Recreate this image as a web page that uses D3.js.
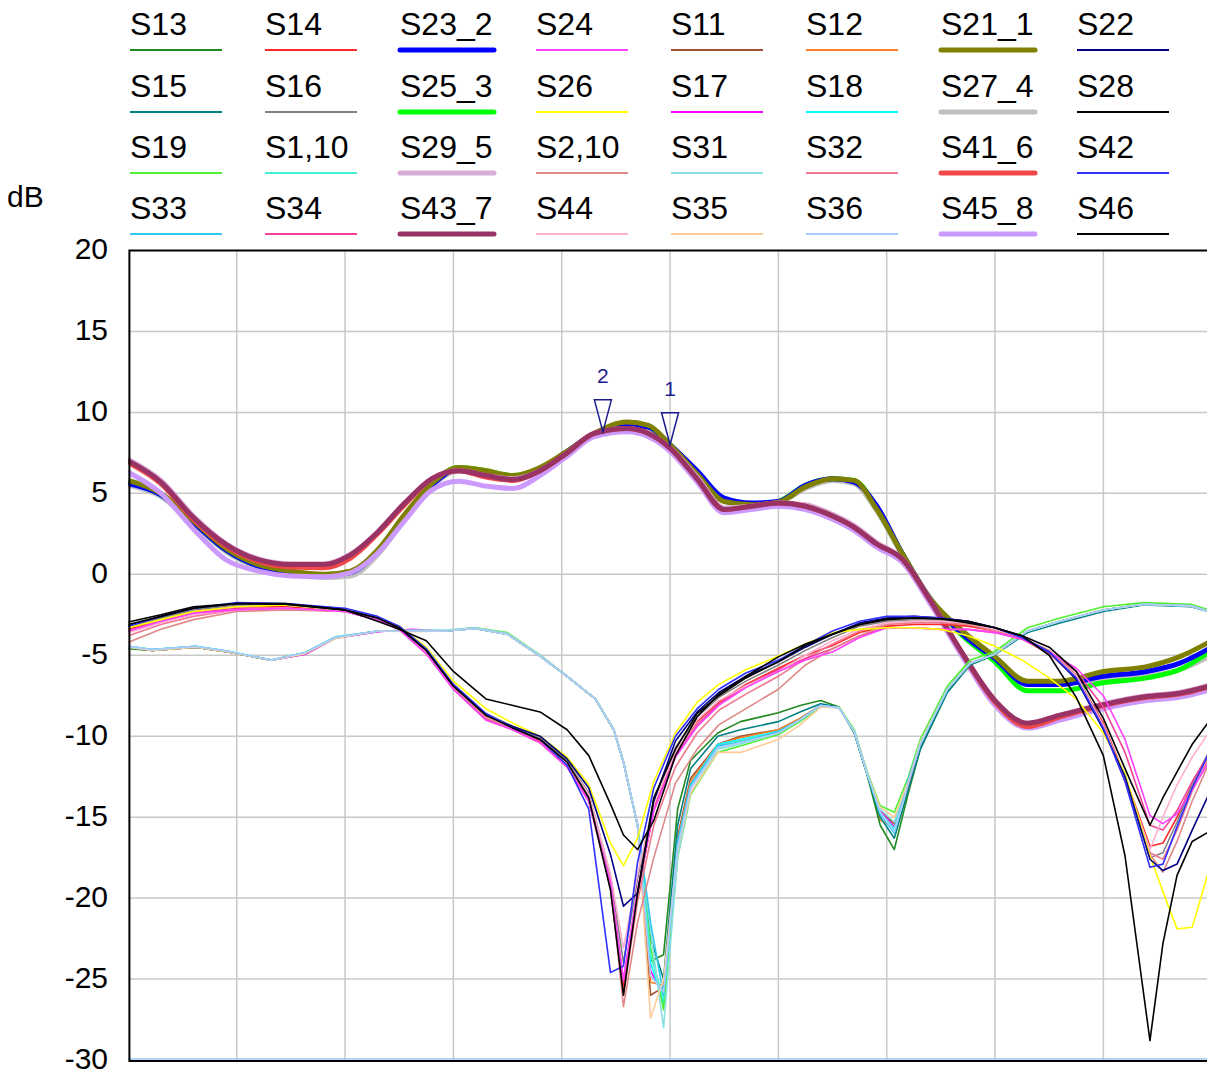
<!DOCTYPE html>
<html>
<head>
<meta charset="utf-8">
<script src="https://cdn.jsdelivr.net/npm/d3@7"></script>
<style>
  html, body { margin: 0; padding: 0; background: #fff; }
  svg { display: block; font-family: "Liberation Sans", Arial, sans-serif; }
</style>
</head>
<body>
<svg class="chart" width="1207" height="1075"></svg>
<script>
/* S-parameter sweep plot, dB vs. sweep divisions */

// ---- data ----
var yTicks = [20, 15, 10, 5, 0, -5, -10, -15, -20, -25, -30];
var xGrid = [1, 2, 3, 4, 5, 6, 7, 8, 9];

// sweep positions (in grid divisions) for each family of traces
var xThick = [0, 0.3, 0.6, 0.9, 1.2, 1.5, 1.8, 2.05, 2.3, 2.55, 2.8, 3.05, 3.3, 3.55, 3.8, 4.05, 4.3, 4.6, 4.8, 5.0,
  5.25, 5.5, 5.75, 6.0, 6.25, 6.5, 6.7, 6.9, 7.15, 7.4, 7.7, 8.0, 8.3, 8.6, 9.0, 9.4, 9.7, 10.0];
var xLow = [0, 0.3, 0.6, 1.0, 1.45, 2.0, 2.3, 2.5, 2.75, 3.0, 3.3, 3.55, 3.8, 4.05, 4.25, 4.45, 4.57, 4.7, 4.85, 5.05,
  5.25, 5.45, 5.7, 6.0, 6.25, 6.5, 6.75, 7.0, 7.25, 7.5, 7.75, 8.0, 8.25, 8.5, 8.75, 9.0, 9.2, 9.43, 9.55, 9.68, 9.82, 10.0];
var xIso = [0, 0.22, 0.62, 0.92, 1.32, 1.63, 1.91, 2.31, 2.62, 2.92, 3.2, 3.5, 3.8, 4.05, 4.31, 4.48, 4.57, 4.7, 4.82, 4.94,
  5.07, 5.19, 5.44, 5.65, 6.0, 6.2, 6.39, 6.56, 6.7, 6.82, 6.94, 7.07, 7.2, 7.31, 7.56, 7.77, 7.99, 8.3, 8.6, 9.0, 9.37, 9.81, 10.0];

// thick traces
var S21_1 = [5.8, 5.0, 3.3, 1.6, 0.6, 0.2, 0.0, 0.2, 1.5, 3.7, 5.6, 6.6, 6.4, 6.1, 6.6, 7.6, 8.7, 9.4, 9.2, 8.0, 6.2, 4.5, 4.3, 4.45, 5.4, 5.9, 5.8, 4.1, 1.2, -1.5, -3.5, -5.1, -6.6, -6.6, -6.0, -5.7, -5.1, -4.1];
var S23_2 = [5.6, 4.9, 3.2, 1.5, 0.5, 0.1, -0.1, 0.1, 1.4, 3.6, 5.5, 6.5, 6.3, 6.0, 6.5, 7.6, 8.7, 9.2, 9.1, 8.0, 6.4, 4.7, 4.4, 4.5, 5.5, 5.9, 5.7, 4.3, 1.2, -1.5, -3.7, -5.2, -6.8, -6.8, -6.3, -6.0, -5.5, -4.5];
var S25_3 = [5.7, 4.9, 3.2, 1.5, 0.5, 0.1, -0.1, 0.1, 1.4, 3.6, 5.6, 6.6, 6.4, 6.1, 6.5, 7.6, 8.7, 9.3, 9.1, 8.0, 6.3, 4.6, 4.3, 4.5, 5.5, 5.9, 5.8, 4.2, 1.2, -1.5, -3.8, -5.4, -7.2, -7.2, -6.7, -6.4, -5.9, -4.7];
var S27_4 = [5.5, 4.8, 3.1, 1.4, 0.4, 0.0, -0.2, -0.1, 1.2, 3.4, 5.4, 6.4, 6.3, 6.0, 6.4, 7.5, 8.6, 9.2, 9.0, 7.9, 6.1, 4.5, 4.2, 4.4, 5.3, 5.8, 5.6, 4.0, 1.1, -1.6, -3.6, -5.1, -6.7, -6.6, -6.5, -6.3, -5.9, -5.0];
var S29_5 = [7.1, 5.8, 3.6, 1.9, 0.95, 0.65, 0.65, 1.25, 2.6, 4.4, 5.9, 6.4, 6.1, 5.9, 6.4, 7.5, 8.7, 9.0, 8.7, 7.8, 6.0, 4.1, 4.2, 4.4, 4.3, 3.7, 3.0, 2.0, 0.9, -1.6, -4.9, -7.8, -9.2, -8.7, -8.0, -7.5, -7.3, -6.8];
var S41_6 = [6.9, 5.6, 3.4, 1.75, 0.8, 0.45, 0.4, 1.0, 2.5, 4.3, 5.9, 6.4, 6.0, 5.8, 6.4, 7.5, 8.7, 9.0, 8.7, 7.8, 5.9, 4.0, 4.2, 4.4, 4.2, 3.6, 2.9, 1.9, 0.9, -1.6, -4.9, -7.9, -9.4, -8.8, -8.1, -7.6, -7.4, -6.9];
var S43_7 = [7.0, 5.7, 3.5, 1.85, 0.9, 0.6, 0.6, 1.2, 2.6, 4.4, 5.9, 6.4, 6.1, 5.85, 6.4, 7.5, 8.7, 9.0, 8.7, 7.8, 5.9, 4.0, 4.2, 4.4, 4.2, 3.6, 2.9, 1.9, 0.9, -1.6, -4.9, -7.8, -9.2, -8.7, -8.05, -7.55, -7.35, -6.85];
var S45_8 = [6.3, 5.0, 2.8, 0.9, 0.2, -0.1, -0.15, 0.1, 1.3, 3.3, 5.2, 5.75, 5.45, 5.3, 6.1, 7.3, 8.5, 8.8, 8.5, 7.6, 5.7, 3.8, 4.0, 4.2, 4.0, 3.4, 2.7, 1.7, 0.7, -1.8, -5.1, -8.1, -9.5, -9.0, -8.3, -7.8, -7.6, -7.1];

// thin traces on xLow
var S42 = [-3.2, -2.6, -2.1, -1.75, -1.8, -2.1, -2.6, -3.2, -4.6, -6.8, -8.6, -9.5, -10.2, -11.8, -14.5, -24.6, -24.2, -17.8, -13.2, -10.0, -8.3, -7.1, -6.1, -5.3, -4.4, -3.5, -2.9, -2.6, -2.6, -2.7, -2.9, -3.3, -3.9, -4.8, -6.4, -9.5, -12.8, -18.1, -17.9, -15.6, -13.2, -10.7];
var S28 = [-2.95, -2.5, -2.0, -1.8, -1.8, -2.2, -2.9, -3.4, -4.1, -6.0, -7.7, -8.1, -8.5, -9.6, -11.2, -14.2, -16.1, -17.0, -15.2, -11.2, -8.8, -7.4, -6.3, -5.1, -4.3, -3.7, -3.1, -2.8, -2.7, -2.75, -2.9, -3.3, -3.8, -5.0, -7.6, -11.2, -17.4, -28.8, -22.8, -18.6, -16.5, -15.8];
var S46 = [-3.1, -2.6, -2.1, -1.8, -1.85, -2.2, -2.7, -3.3, -4.7, -6.9, -8.7, -9.5, -10.2, -11.6, -13.8, -19.5, -26.0, -19.7, -13.8, -10.8, -8.6, -7.5, -6.4, -5.4, -4.4, -3.7, -3.1, -2.75, -2.7, -2.75, -3.0, -3.3, -3.8, -4.5, -6.0, -8.9, -12.0, -15.5, -13.8, -12.2, -10.5, -8.85];
var S26 = [-3.3, -2.8, -2.3, -2.0, -1.9, -2.2, -2.7, -3.2, -4.5, -6.6, -8.3, -9.2, -10.0, -11.3, -13.0, -16.6, -18.0, -16.3, -12.8, -9.8, -7.9, -6.8, -5.9, -5.05, -4.3, -3.6, -3.4, -3.3, -3.3, -3.4, -3.8, -4.45, -5.3, -6.4, -7.7, -9.8, -12.3, -17.4, -19.6, -21.9, -21.8, -17.7];
var S24 = [-3.5, -2.9, -2.4, -2.2, -2.1, -2.3, -2.8, -3.4, -4.9, -7.1, -9.0, -9.6, -10.4, -11.9, -14.0, -19.0, -25.1, -19.5, -14.6, -11.3, -9.4, -8.1, -7.0, -6.0, -5.3, -4.8, -3.9, -3.3, -3.3, -3.4, -3.4, -3.6, -4.0, -4.8, -5.8, -7.5, -10.2, -14.9, -15.4, -14.8, -13.3, -11.3];
var S2_10 = [-4.2, -3.4, -2.8, -2.3, -2.2, -2.3, -2.8, -3.4, -4.9, -7.0, -8.8, -9.6, -10.4, -11.8, -13.8, -19.0, -26.7, -21.5, -17.5, -12.9, -10.8, -9.3, -8.3, -7.1, -5.6, -4.6, -3.8, -3.1, -2.9, -2.9, -3.1, -3.4, -3.9, -4.7, -6.2, -9.3, -12.6, -17.3, -18.4, -16.5, -14.0, -11.3];
var S44 = [-3.6, -3.0, -2.5, -2.2, -2.1, -2.3, -2.8, -3.4, -4.8, -6.9, -8.7, -9.5, -10.2, -11.6, -13.6, -18.5, -23.1, -18.5, -14.2, -11.0, -9.0, -7.8, -6.9, -6.0, -5.0, -4.1, -3.4, -3.0, -2.9, -2.9, -3.0, -3.4, -3.9, -4.8, -6.3, -9.4, -12.6, -17.0, -15.0, -13.0, -11.3, -9.5];
var S22 = [-3.2, -2.6, -2.1, -1.8, -1.85, -2.2, -2.7, -3.3, -4.7, -6.9, -8.7, -9.4, -10.0, -11.4, -13.2, -17.3, -20.5, -19.7, -14.0, -10.3, -8.5, -7.3, -6.3, -5.4, -4.5, -3.7, -3.0, -2.7, -2.6, -2.7, -2.9, -3.3, -3.9, -4.8, -6.5, -9.6, -12.5, -17.6, -18.3, -17.9, -15.8, -13.2];
var S14 = [-3.4, -2.8, -2.3, -2.0, -2.0, -2.3, -2.8, -3.4, -4.8, -7.0, -8.9, -9.6, -10.3, -11.8, -13.9, -19.2, -25.5, -19.8, -14.5, -11.0, -9.1, -7.9, -6.8, -5.8, -5.0, -4.4, -3.6, -3.2, -3.1, -3.1, -3.2, -3.5, -4.0, -4.9, -6.3, -9.2, -12.5, -16.8, -16.6, -15.0, -13.0, -10.8];
var S16 = [-3.3, -2.7, -2.2, -1.9, -1.9, -2.2, -2.7, -3.3, -4.7, -6.8, -8.6, -9.4, -10.1, -11.5, -13.5, -18.6, -24.0, -18.8, -14.0, -10.7, -8.8, -7.6, -6.6, -5.6, -4.7, -3.9, -3.2, -2.9, -2.8, -2.8, -3.0, -3.4, -3.9, -4.8, -6.3, -9.4, -12.7, -17.5, -17.2, -15.3, -13.0, -10.6];
var S32 = [-3.8, -3.1, -2.6, -2.2, -2.1, -2.3, -2.8, -3.4, -4.9, -7.0, -8.9, -9.6, -10.4, -11.9, -14.0, -19.4, -26.0, -20.2, -15.5, -11.9, -9.8, -8.4, -7.4, -6.3, -5.2, -4.3, -3.5, -3.1, -3.0, -3.0, -3.1, -3.5, -4.0, -4.9, -6.4, -9.5, -12.8, -17.2, -17.6, -15.8, -13.4, -11.0];
var S34 = [-3.5, -2.9, -2.4, -2.1, -2.1, -2.3, -2.8, -3.4, -4.9, -7.1, -9.0, -9.6, -10.4, -11.9, -14.0, -19.2, -25.0, -19.5, -14.6, -11.2, -9.3, -8.0, -6.9, -5.9, -5.2, -4.6, -3.8, -3.3, -3.3, -3.4, -3.4, -3.6, -4.0, -4.8, -6.0, -8.2, -11.0, -15.5, -15.8, -14.6, -12.8, -10.8];

// thin traces on xIso
var S33 = [-4.45, -4.65, -4.45, -4.75, -5.3, -4.85, -3.9, -3.5, -3.5, -3.5, -3.35, -3.7, -5.05, -6.3, -7.7, -9.6, -11.6, -15.5, -21.5, -26.0, -16.5, -13.0, -10.6, -10.4, -9.7, -9.0, -8.1, -8.25, -9.7, -12.3, -14.8, -16.0, -12.6, -10.5, -7.1, -5.5, -4.95, -3.5, -2.9, -2.2, -1.85, -1.95, -2.35];
var S11 = [-4.5, -4.7, -4.5, -4.8, -5.3, -4.9, -3.9, -3.5, -3.5, -3.5, -3.3, -3.7, -5.0, -6.3, -7.7, -9.6, -11.6, -15.5, -26.0, -25.5, -16.2, -12.6, -10.5, -10.0, -9.6, -8.9, -8.1, -8.25, -9.7, -12.3, -14.6, -15.4, -13.0, -10.5, -7.1, -5.5, -4.95, -3.5, -2.9, -2.2, -1.85, -1.95, -2.35];
var S35 = [-4.5, -4.7, -4.5, -4.8, -5.3, -4.9, -3.95, -3.5, -3.55, -3.5, -3.35, -3.7, -5.05, -6.3, -7.7, -9.6, -11.6, -15.5, -27.4, -25.0, -17.0, -13.5, -11.0, -11.0, -10.2, -9.3, -8.2, -8.25, -9.7, -12.3, -14.4, -15.0, -12.8, -10.4, -7.1, -5.5, -4.95, -3.5, -2.9, -2.2, -1.85, -1.95, -2.35];
var S31 = [-4.45, -4.65, -4.45, -4.75, -5.3, -4.85, -3.85, -3.5, -3.45, -3.45, -3.3, -3.65, -5.0, -6.3, -7.7, -9.6, -11.6, -15.5, -22.0, -28.0, -17.5, -13.5, -10.8, -10.5, -9.8, -9.0, -8.1, -8.25, -9.7, -12.3, -14.5, -15.3, -12.8, -10.4, -7.1, -5.5, -4.95, -3.5, -2.9, -2.2, -1.85, -1.95, -2.35];
var S13 = [-4.6, -4.7, -4.5, -4.8, -5.3, -4.85, -3.9, -3.5, -3.5, -3.5, -3.35, -3.7, -5.05, -6.3, -7.7, -9.6, -11.6, -15.5, -23.9, -23.5, -14.5, -11.5, -9.8, -9.1, -8.55, -8.1, -7.8, -8.2, -9.8, -12.4, -15.5, -17.0, -13.5, -10.8, -7.2, -5.5, -4.95, -3.5, -2.9, -2.2, -1.85, -1.95, -2.3];
var S15 = [-4.55, -4.7, -4.5, -4.8, -5.3, -4.85, -3.9, -3.5, -3.5, -3.5, -3.35, -3.7, -5.05, -6.3, -7.7, -9.6, -11.6, -15.5, -22.5, -25.0, -15.5, -12.0, -10.0, -9.6, -9.1, -8.5, -8.0, -8.2, -9.8, -12.4, -15.0, -16.3, -13.3, -10.8, -7.3, -5.6, -5.0, -3.6, -3.0, -2.3, -1.9, -2.0, -2.35];
var S19 = [-4.5, -4.7, -4.5, -4.8, -5.3, -4.9, -3.95, -3.5, -3.5, -3.5, -3.3, -3.6, -5.0, -6.3, -7.7, -9.6, -11.6, -15.5, -23.0, -26.9, -17.5, -13.6, -11.0, -10.6, -9.9, -9.1, -8.2, -8.2, -9.6, -12.2, -14.3, -14.7, -12.5, -10.2, -6.9, -5.3, -4.8, -3.3, -2.7, -2.0, -1.75, -1.85, -2.25];
var S17 = [-4.5, -4.7, -4.5, -4.8, -5.3, -4.95, -3.95, -3.55, -3.4, -3.5, -3.35, -3.7, -5.05, -6.3, -7.7, -9.6, -11.6, -15.5, -24.5, -26.0, -17.0, -13.2, -10.6, -10.3, -9.8, -9.0, -8.1, -8.25, -9.7, -12.3, -14.6, -15.6, -12.9, -10.5, -7.1, -5.5, -4.95, -3.5, -2.9, -2.2, -1.85, -1.95, -2.35];
var S18 = [-4.5, -4.65, -4.45, -4.75, -5.3, -4.85, -3.9, -3.5, -3.5, -3.5, -3.35, -3.7, -5.05, -6.3, -7.7, -9.6, -11.6, -15.5, -24.0, -26.5, -16.8, -13.0, -10.5, -10.2, -9.7, -9.0, -8.1, -8.25, -9.7, -12.3, -14.8, -15.8, -12.8, -10.5, -7.1, -5.5, -4.95, -3.5, -2.9, -2.2, -1.85, -1.95, -2.35];
var S1_10 = [-4.45, -4.65, -4.45, -4.75, -5.3, -4.85, -3.9, -3.5, -3.5, -3.5, -3.35, -3.7, -5.05, -6.3, -7.7, -9.6, -11.6, -15.5, -23.5, -26.2, -16.6, -13.1, -10.6, -10.3, -9.7, -9.0, -8.1, -8.25, -9.7, -12.3, -14.7, -15.7, -12.7, -10.4, -7.1, -5.5, -4.95, -3.5, -2.9, -2.2, -1.85, -1.95, -2.35];
var S36 = [-4.45, -4.65, -4.45, -4.75, -5.3, -4.85, -3.9, -3.5, -3.5, -3.5, -3.35, -3.7, -5.05, -6.3, -7.7, -9.6, -11.6, -15.5, -24.8, -25.8, -16.9, -13.2, -10.7, -10.4, -9.8, -9.0, -8.1, -8.25, -9.7, -12.3, -14.7, -15.9, -12.9, -10.5, -7.1, -5.5, -4.95, -3.5, -2.9, -2.2, -1.85, -1.95, -2.35];
var S12 = [-4.5, -4.7, -4.5, -4.8, -5.3, -4.9, -3.9, -3.5, -3.5, -3.5, -3.35, -3.7, -5.05, -6.3, -7.7, -9.6, -11.6, -15.5, -25.2, -25.4, -16.4, -12.8, -10.5, -10.1, -9.6, -8.9, -8.1, -8.25, -9.7, -12.3, -15.2, -15.6, -12.9, -10.5, -7.1, -5.5, -4.95, -3.5, -2.9, -2.2, -1.85, -1.95, -2.35];

// markers
var markerX = [5.0, 4.38];
var markerY = [8.0, 8.8];
var markerLabels = ["1", "2"];

// legend, in display order (4 rows x 8 columns)
var legendNames = [
  "S13", "S14", "S23_2", "S24", "S11", "S12", "S21_1", "S22",
  "S15", "S16", "S25_3", "S26", "S17", "S18", "S27_4", "S28",
  "S19", "S1,10", "S29_5", "S2,10", "S31", "S32", "S41_6", "S42",
  "S33", "S34", "S43_7", "S44", "S35", "S36", "S45_8", "S46"
];

// ---- trace table ----
var traces = [
  // thick, drawn first
  {name: "S27_4", x: xThick, y: S27_4, color: "#c0c0c0", thick: true},
  {name: "S25_3", x: xThick, y: S25_3, color: "#00ff00", thick: true},
  {name: "S23_2", x: xThick, y: S23_2, color: "#0000ff", thick: true},
  {name: "S21_1", x: xThick, y: S21_1, color: "#808000", thick: true},
  {name: "S45_8", x: xThick, y: S45_8, color: "#cc99ff", thick: true},
  {name: "S29_5", x: xThick, y: S29_5, color: "#d8acd8", thick: true},
  {name: "S41_6", x: xThick, y: S41_6, color: "#f04848", thick: true},
  {name: "S43_7", x: xThick, y: S43_7, color: "#993366", thick: true},
  // thin
  {name: "S11", x: xIso, y: S11, color: "#a0522d"},
  {name: "S12", x: xIso, y: S12, color: "#ff7f27"},
  {name: "S13", x: xIso, y: S13, color: "#208a20"},
  {name: "S15", x: xIso, y: S15, color: "#008080"},
  {name: "S17", x: xIso, y: S17, color: "#ff00ff"},
  {name: "S18", x: xIso, y: S18, color: "#00ffff"},
  {name: "S19", x: xIso, y: S19, color: "#50f030"},
  {name: "S1,10", x: xIso, y: S1_10, color: "#40f0d0"},
  {name: "S31", x: xIso, y: S31, color: "#88e0e0"},
  {name: "S33", x: xIso, y: S33, color: "#30c8f0"},
  {name: "S35", x: xIso, y: S35, color: "#ffcc99"},
  {name: "S36", x: xIso, y: S36, color: "#a8ccff"},
  {name: "S14", x: xLow, y: S14, color: "#ff2828"},
  {name: "S16", x: xLow, y: S16, color: "#808080"},
  {name: "S32", x: xLow, y: S32, color: "#f07890"},
  {name: "S34", x: xLow, y: S34, color: "#f0409a"},
  {name: "S2,10", x: xLow, y: S2_10, color: "#e08888"},
  {name: "S44", x: xLow, y: S44, color: "#ffb0d0"},
  {name: "S24", x: xLow, y: S24, color: "#ff40ff"},
  {name: "S26", x: xLow, y: S26, color: "#ffff00"},
  {name: "S22", x: xLow, y: S22, color: "#000080"},
  {name: "S42", x: xLow, y: S42, color: "#3030ff"},
  {name: "S46", x: xLow, y: S46, color: "#000000"},
  {name: "S28", x: xLow, y: S28, color: "#000000"}
];
var byName = {};
traces.forEach(function(t) { byName[t.name] = t; });

// ---- scales ----
var plotLeft = 128.4, plotRight = 1211.7, plotTop = 250.5, plotBottom = 1060;

var x = d3.scaleLinear().domain([0, 10]).range([plotLeft, plotRight]);
var y = d3.scaleLinear().domain([-30, 20]).range([plotBottom, plotTop]);

var svg = d3.select(".chart");

svg.append("defs").append("clipPath")
    .attr("id", "plotclip")
  .append("rect")
    .attr("x", plotLeft)
    .attr("y", plotTop)
    .attr("width", plotRight - plotLeft)
    .attr("height", plotBottom - plotTop);

// grid
var grid = svg.append("g").attr("class", "grid");
grid.selectAll(".vgrid")
    .data(xGrid)
  .enter().append("line")
    .attr("x1", function(d) { return x(d); })
    .attr("x2", function(d) { return x(d); })
    .attr("y1", plotTop)
    .attr("y2", plotBottom)
    .attr("stroke", "#c8c8c8")
    .attr("stroke-width", 1.5);
grid.selectAll(".hgrid")
    .data(yTicks.filter(function(d) { return d > -30 && d < 20; }))
  .enter().append("line")
    .attr("x1", plotLeft)
    .attr("x2", plotRight)
    .attr("y1", function(d) { return y(d); })
    .attr("y2", function(d) { return y(d); })
    .attr("stroke", "#c8c8c8")
    .attr("stroke-width", 1.5);

// y axis labels (plain hyphen for negatives, as in the original)
var yAxis = d3.axisLeft(y)
    .tickValues(yTicks)
    .tickSize(0)
    .tickPadding(0)
    .tickFormat(function(d) { return String(d); });
var yg = svg.append("g")
    .attr("transform", "translate(108,0)")
    .call(yAxis);
yg.select(".domain").remove();
yg.selectAll("text")
    .attr("font-family", "\"Liberation Sans\", Arial, sans-serif")
    .attr("font-size", 30)
    .attr("fill", "#000")
    .attr("x", 0)
    .attr("dy", "0.28em");

svg.append("text")
    .attr("x", 7)
    .attr("y", 207)
    .attr("font-size", 30)
    .text("dB");

// traces
var line = d3.line()
    .x(function(d) { return x(d[0]); })
    .y(function(d) { return y(d[1]); });

var plot = svg.append("g").attr("clip-path", "url(#plotclip)");
plot.selectAll(".trace")
    .data(traces)
  .enter().append("path")
    .attr("class", "trace")
    .attr("fill", "none")
    .attr("stroke", function(d) { return d.color; })
    .attr("stroke-width", function(d) { return d.thick ? 5 : 1.6; })
    .attr("stroke-linejoin", "round")
    .attr("stroke-linecap", "round")
    .attr("d", function(d) {
      var pts = d.x.map(function(v, i) { return [v, d.y[i]]; });
      return line.curve(d.thick ? d3.curveMonotoneX : d3.curveLinear)(pts);
    });

// frame
svg.append("line").attr("x1", plotLeft).attr("x2", plotRight).attr("y1", plotBottom - 1).attr("y2", plotBottom - 1)
    .attr("stroke", "#9cc4f0").attr("stroke-width", 1.5);
svg.append("path")
    .attr("d", "M" + plotRight + "," + plotTop + "H" + (plotLeft + 1) + "V" + (plotBottom + 1) + "H" + plotRight)
    .attr("fill", "none")
    .attr("stroke", "#000")
    .attr("stroke-width", 2);

// markers
var markers = svg.append("g").attr("class", "markers");
markerX.forEach(function(mx, i) {
  var px = x(mx), py = y(markerY[i]);
  markers.append("path")
      .attr("d", "M" + px + "," + py + "L" + (px - 8.5) + "," + (py - 32) + "L" + (px + 8.5) + "," + (py - 32) + "Z")
      .attr("fill", "none")
      .attr("stroke", "#1c1c8c")
      .attr("stroke-width", 1.5);
  markers.append("text")
      .attr("x", px)
      .attr("y", py - 49)
      .attr("text-anchor", "middle")
      .attr("font-size", 21)
      .attr("fill", "#1c1c8c")
      .text(markerLabels[i]);
});

// legend
var colX = [130, 265, 400, 536, 671, 806, 941, 1077];
var rowY = [50, 112, 173, 234];
var legend = svg.append("g").attr("class", "legend");
legendNames.forEach(function(name, i) {
  var t = byName[name];
  var lx = colX[i % 8], ly = rowY[Math.floor(i / 8)];
  legend.append("text")
      .attr("x", lx)
      .attr("y", ly - 15)
      .attr("font-size", 32)
      .attr("fill", "#000")
      .text(name);
  legend.append("line")
      .attr("x1", lx)
      .attr("x2", lx + (t.thick ? 94 : 92))
      .attr("y1", ly)
      .attr("y2", ly)
      .attr("stroke", t.color)
      .attr("stroke-width", t.thick ? 5 : 2)
      .attr("stroke-linecap", t.thick ? "round" : "butt");
});
</script>
</body>
</html>
